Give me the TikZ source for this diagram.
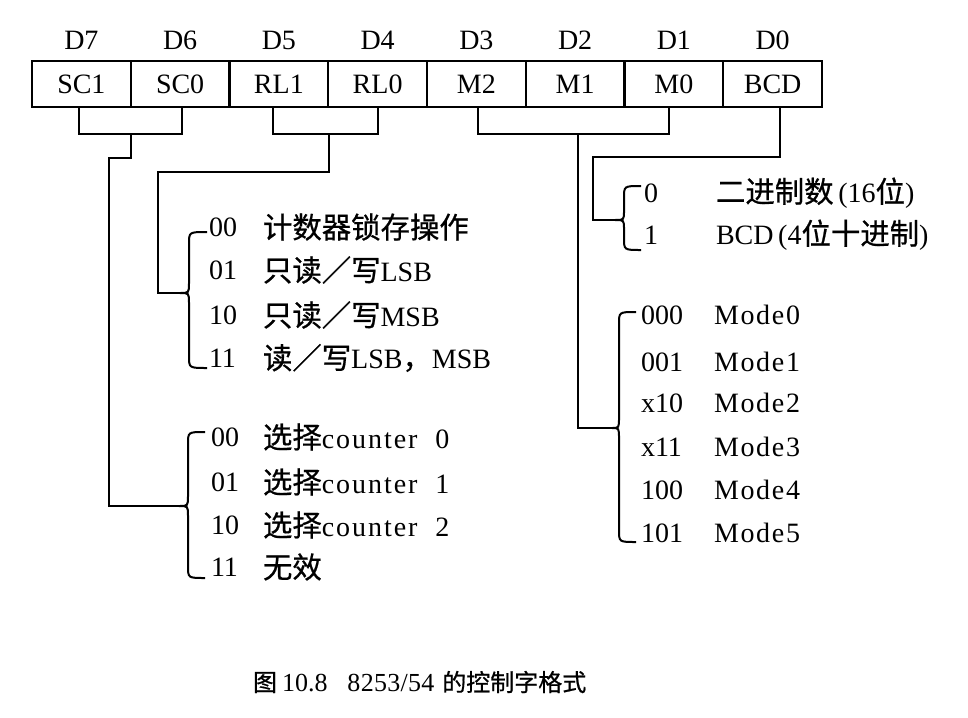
\documentclass[tikz,border=0pt]{standalone}
\usepackage{fontspec}
\setmainfont{Liberation Serif}
\newfontfamily\cjk[Scale=1.05,FakeBold=0.7]{Noto Sans CJK SC}
\newfontfamily\capcjk[FakeBold=0.7]{Noto Sans CJK SC}
\newcommand\fsz{\fontsize{28}{30}\selectfont}
\begin{document}
\begin{tikzpicture}[x=1pt,y=-1pt,line width=2pt,
  cell/.style={draw,line width=2.4pt,minimum width=98.75pt,minimum height=46pt,inner sep=0pt,font=\fsz},
  lbl/.style={font=\fsz,inner sep=0pt,anchor=west},
  bit/.style={font=\fsz,inner sep=0pt},
  brc/.style={line width=2pt}]
\useasboundingbox (0,0) rectangle (968,717);
% register cells
\foreach \n/\t/\d [count=\k from 0] in {sc1/SC1/D7,sc0/SC0/D6,rl1/RL1/D5,rl0/RL0/D4,m2/M2/D3,m1/M1/D2,m0/M0/D1,bcd/BCD/D0}{
  \node[cell] (\n) at (32+98.75*\k+49.375,84) {\t};
  \node[bit] (d\n) at (32+98.75*\k+49.375,40) {\d};
}
% junctions
\coordinate (scj) at (131,134);
\coordinate (rlj) at (329,134);
\coordinate (mj) at (578,134);
\coordinate (scb) at (179,506);
\coordinate (rlb) at (180,293);
\coordinate (mb) at (612,428);
\coordinate (bb) at (615,220);
% SC connector
\draw (sc1.south -| 79,0) -- (79,134) -- (182,134) -- (sc0.south -| 182,0);
\draw (scj) -- (131,158) -| (109,506) -- (scb);
% RL connector
\draw (rl1.south -| 273,0) -- (273,134) -- (378,134) -- (rl0.south -| 378,0);
\draw (rlj) -- (329,172) -| (158,293) -- (rlb);
% Mode connector
\draw (m2.south -| 478,0) -- (478,134) -- (669,134) -- (m0.south -| 669,0);
\draw (mj) -- (578,428) -- (mb);
% BCD connector
\draw (bcd.south -| 780,0) -- (780,157) -| (593,220) -- (bb);
% braces
\draw[brc] (207,232) .. controls (189,232) .. (189,244) -- (189,283) .. controls (189,293) .. (rlb) .. controls (189,293) .. (189,303) -- (189,356) .. controls (189,368) .. (207,368);
\draw[brc] (205,432) .. controls (188,432) .. (188,444) -- (188,496) .. controls (188,506) .. (scb) .. controls (188,506) .. (188,516) -- (188,566) .. controls (188,578) .. (205,578);
\draw[brc] (636,312) .. controls (619,312) .. (619,324) -- (619,418) .. controls (619,428) .. (mb) .. controls (619,428) .. (619,438) -- (619,530) .. controls (619,542) .. (636,542);
\draw[brc] (641,186) .. controls (624,186) .. (624,198) -- (624,211) .. controls (624,220) .. (bb) .. controls (624,220) .. (624,229) -- (624,238) .. controls (624,250) .. (641,250);
% RL texts
\node[lbl] (rlc0) at (208,227) {00};
\node[lbl] (rlc1) at (208,270) {01};
\node[lbl] (rlc2) at (208,315) {10};
\node[lbl] (rlc3) at (208,358) {11};
\node[lbl] (rlt0) at (262,227) {\cjk 计数器锁存操作};
\node[lbl] (rlt1) at (262,270) {{\cjk 只读／写}LSB};
\node[lbl] (rlt2) at (262,315) {{\cjk 只读／写}MSB};
\node[lbl] (rlt3) at (262,358) {{\cjk 读／写}LSB{\cjk ，}MSB};
% SC texts
\node[lbl] (scc0) at (210,437) {00};
\node[lbl] (scc1) at (210,482) {01};
\node[lbl] (scc2) at (210,525) {10};
\node[lbl] (scc3) at (210,567) {11};
\node[lbl] (sct0) at (262,437) {{\cjk 选择}\addfontfeature{LetterSpace=7}counter\ \ 0};
\node[lbl] (sct1) at (262,482) {{\cjk 选择}\addfontfeature{LetterSpace=7}counter\ \ 1};
\node[lbl] (sct2) at (262,525) {{\cjk 选择}\addfontfeature{LetterSpace=7}counter\ \ 2};
\node[lbl] (sct3) at (262,567) {\cjk 无效};
% Mode texts
\foreach \c/\m/\y [count=\k from 0] in {000/Mode0/315,001/Mode1/362,x10/Mode2/403,x11/Mode3/447,100/Mode4/490,101/Mode5/533}{
  \node[lbl] (mc\k) at (640,\y) {\c};
  \node[lbl] (mt\k) at (713,\y) {\addfontfeature{LetterSpace=6}\m};
}
% BCD texts
\node[lbl] (bc0) at (643,193) {0};
\node[lbl] (bc1) at (643,235) {1};
\node[lbl] (bt0) at (715,193) {{\cjk 二进制数}\,(16{\cjk 位})};
\node[lbl] (bt1) at (715,235) {BCD\,(4{\cjk 位十进制})};
% caption
\node[lbl,font=\fontsize{26}{28}\selectfont] (cap) at (252,682) {{\capcjk\fontsize{24}{26}\selectfont 图}\hspace{5pt}10.8\hspace{20pt}{\addfontfeature{LetterSpace=1}8253/54}\hspace{8pt}{\capcjk\fontsize{24}{26}\selectfont 的控制字格式}};
\end{tikzpicture}
\end{document}
